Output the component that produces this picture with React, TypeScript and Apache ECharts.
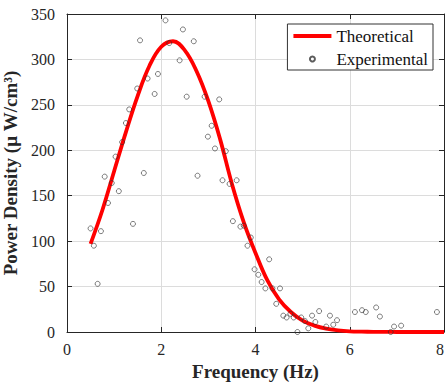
import React, { useEffect, useRef } from "react";
import * as echarts from "echarts";

const FONT = "'Liberation Serif', 'Times New Roman', serif";

const xTicks = [0, 2, 4, 6, 8];
const yTicks = [0, 50, 100, 150, 200, 250, 300, 350];

const theoryX = [0.5, 0.75, 1.0, 1.25, 1.5, 1.75, 2.0, 2.25, 2.5, 2.75, 3.0, 3.25, 3.5, 3.75, 4.0, 4.25, 4.5, 4.75, 5.0, 5.25, 5.5, 5.75, 6.0, 6.25, 6.5, 6.75, 7.0, 7.25, 7.5, 7.75, 8.0];
const theoryY = [97, 134, 177, 220, 260, 293, 314, 320, 310, 287, 254, 212, 163, 121, 87, 57, 36, 22, 12.5, 7, 3.6, 1.8, 0.8, 0.4, 0.2, 0.1, 0, 0, 0, 0, 0];

const expX = [2.09, 2.46, 1.55, 2.17, 2.69, 2.39, 1.93, 1.71, 1.49, 1.86, 2.54, 2.92, 3.23, 1.32, 1.25, 3.07, 2.99, 1.17, 3.14, 3.37, 1.03, 0.8, 1.63, 2.77, 3.3, 3.45, 3.6, 0.95, 1.1, 0.87, 0.5, 0.72, 0.57, 0.65, 1.4, 3.52, 3.68, 3.75, 3.9, 3.83, 3.98, 4.06, 4.13, 4.29, 4.21, 4.36, 4.52, 4.44, 4.59, 4.66, 4.74, 4.81, 4.97, 5.05, 4.89, 5.12, 5.2, 5.27, 5.35, 5.5, 5.58, 5.65, 5.73, 6.11, 6.26, 6.34, 6.56, 6.64, 6.87, 6.94, 7.09, 7.85];
const expY = [343, 333, 321, 318, 320, 299, 284, 279, 268, 262, 259, 259, 256, 245, 230, 227, 215, 209, 202, 199, 193, 171, 175, 172, 167, 163, 167, 164, 155, 142, 114, 111, 95, 53, 119, 122, 116, 117, 104, 95, 69, 63, 55, 80, 48, 48, 48, 31, 18, 16, 20, 16, 16, 12, 0, 4, 18, 11, 23, 6, 18, 8, 13, 22, 24, 22, 27, 17, 0, 6, 7, 22];

const xName = "Frequency (Hz)";
const yName = "Power Density (\u03bc W/cm\u00b3)";

export default function App() {
  const ref = useRef<HTMLDivElement>(null);
  useEffect(() => {
    if (!ref.current) return;
    const chart = echarts.init(ref.current, undefined, { renderer: "svg" });
    const axisColor = "#262626";
    const labelStyle = { fontFamily: FONT, fontSize: 16, color: axisColor };
    const nameStyle = { fontFamily: FONT, fontSize: 19, fontWeight: "bold" as const, color: axisColor };
    const xMin = xTicks[0], xMax = xTicks[xTicks.length - 1];
    const yMin = yTicks[0], yMax = yTicks[yTicks.length - 1];
    chart.setOption({
      animation: false,
      backgroundColor: "#ffffff",
      grid: { left: 67, right: 2, top: 14, bottom: 55, outerBoundsMode: "none", containLabel: false },
      xAxis: [
        {
          type: "value", min: xMin, max: xMax, interval: xTicks[1] - xTicks[0],
          name: xName, nameLocation: "middle", nameGap: 28, nameTextStyle: nameStyle,
          axisLine: { show: true, onZero: false, lineStyle: { color: axisColor, width: 1 } },
          axisTick: { show: true, inside: true, length: 5, lineStyle: { color: axisColor } },
          axisLabel: {
            ...labelStyle, margin: 9,
            formatter: (v: number) => String(v),
            alignMaxLabel: "right",
          },
          splitLine: { show: true, lineStyle: { color: "#dcdcdc", width: 1 } },
        },
        {
          type: "value", min: xMin, max: xMax, interval: xTicks[1] - xTicks[0], position: "top",
          axisLine: { show: true, onZero: false, lineStyle: { color: axisColor, width: 1 } },
          axisTick: { show: true, inside: true, length: 5, lineStyle: { color: axisColor } },
          axisLabel: { show: false },
          splitLine: { show: false },
        },
      ],
      yAxis: [
        {
          type: "value", min: yMin, max: yMax, interval: yTicks[1] - yTicks[0],
          name: yName, nameLocation: "middle", nameGap: 36, nameTextStyle: nameStyle,
          axisLine: { show: true, onZero: false, lineStyle: { color: axisColor, width: 1 } },
          axisTick: { show: true, inside: true, length: 5, lineStyle: { color: axisColor } },
          axisLabel: { ...labelStyle, margin: 12 },
          splitLine: { show: true, lineStyle: { color: "#dcdcdc", width: 1 } },
        },
        {
          type: "value", min: yMin, max: yMax, interval: yTicks[1] - yTicks[0], position: "right",
          axisLine: { show: true, onZero: false, lineStyle: { color: axisColor, width: 1 } },
          axisTick: { show: true, inside: true, length: 5, lineStyle: { color: axisColor } },
          axisLabel: { show: false },
          splitLine: { show: false },
        },
      ],
      legend: {
        orient: "vertical",
        top: 24,
        right: 13,
        itemWidth: 38,
        itemHeight: 5,
        itemGap: 3,
        padding: [2, 5, 1, 4],
        backgroundColor: "#ffffff",
        borderColor: "#333333",
        borderWidth: 1,
        borderRadius: 0,
        textStyle: { fontFamily: FONT, fontSize: 17, color: "#111", lineHeight: 20 },
        data: [
          { name: "Theoretical", lineStyle: { width: 4, color: "#ff0000" } },
          { name: "Experimental" },
        ],
      },
      series: [
        {
          name: "Theoretical",
          type: "line",
          data: theoryX.map((x, i) => [x, theoryY[i]]),
          smooth: 0.4,
          symbol: "none",
          lineStyle: { color: "#ff0000", width: 3.8 },
          itemStyle: { color: "#ff0000" },
          z: 2,
        },
        {
          name: "Experimental",
          type: "scatter",
          data: expX.map((x, i) => [x, expY[i]]),
          symbol: "circle",
          symbolSize: 5,
          itemStyle: { color: "rgba(255,255,255,0)", borderColor: "#333333", borderWidth: 0.8 },
          z: 3,
        },
      ],
    });
    return () => chart.dispose();
  }, []);
  return <div ref={ref} style={{ position: "absolute", left: 0, top: 0, width: 446, height: 387 }} />;
}
